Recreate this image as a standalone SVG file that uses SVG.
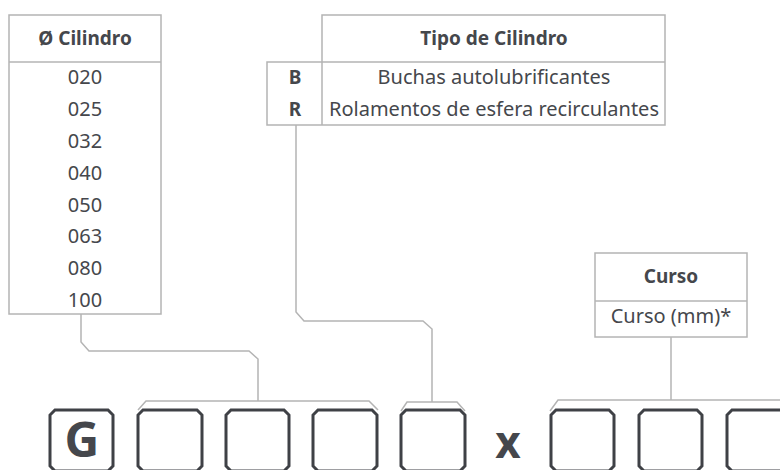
<svg xmlns="http://www.w3.org/2000/svg" width="780" height="470" viewBox="0 0 780 470">
<style>
.t{font-family:"Noto Sans","Liberation Sans",sans-serif;font-size:20px;fill:#45474c;text-anchor:middle}
.b{font-weight:bold;font-size:19px}
.grid{fill:none;stroke:#b4b4b4;stroke-width:1.5}
.conn{fill:none;stroke:#b4b4b4;stroke-width:1.5}
.box{fill:none;stroke:#3f4146;stroke-width:3;stroke-linejoin:miter}
.big{font-family:"Noto Sans","Liberation Sans",sans-serif;font-weight:bold;fill:#45474c;text-anchor:middle}
</style>
<rect width="780" height="470" fill="#ffffff"/>
<g id="cilindro">
<rect class="grid" x="9" y="15" width="152" height="299"/>
<line class="grid" x1="9" y1="62" x2="161" y2="62"/>
<text class="t b" x="85" y="45">Ø Cilindro</text>
<text class="t" x="85" y="84">020</text>
<text class="t" x="85" y="116">025</text>
<text class="t" x="85" y="148">032</text>
<text class="t" x="85" y="180">040</text>
<text class="t" x="85" y="212">050</text>
<text class="t" x="85" y="243">063</text>
<text class="t" x="85" y="275">080</text>
<text class="t" x="85" y="307">100</text>
</g>
<g id="tipo">
<path class="grid" d="M322,125 V15 H665 V125 H267 V62 H665"/>
<text class="t b" x="494" y="45">Tipo de Cilindro</text>
<text class="t b" x="295" y="84">B</text>
<text class="t b" x="295" y="116">R</text>
<text class="t" x="494" y="84">Buchas autolubrificantes</text>
<text class="t" x="494" y="116">Rolamentos de esfera recirculantes</text>
</g>
<g id="curso">
<rect class="grid" x="595" y="253" width="152" height="84"/>
<line class="grid" x1="595" y1="301" x2="747" y2="301"/>
<text class="t b" x="671" y="283">Curso</text>
<text class="t" x="671" y="323">Curso (mm)*</text>
</g>
<g id="connectors">
<path class="conn" d="M81,314 V342 L89,351 H249 L258,359 V401"/>
<path class="conn" d="M138,410 L146,401 H369 L378,410"/>
<path class="conn" d="M296,125 V312 L304,321 H423 L432,329 V402"/>
<path class="conn" d="M401,411 L407,402 H457 L465,411"/>
<path class="conn" d="M671,337 V400"/>
<path class="conn" d="M550,411 L558,400 H780"/>
</g>
<g id="code">
<path class="box" d="M55,410 H108 L113,415 V466 L108,471 H55 L50,466 V415 Z"/>
<text class="big" x="82" y="457" font-size="48">G</text>
<path class="box" d="M143,410 H197 L202,415 V466 L197,471 H143 L138,466 V415 Z"/>
<path class="box" d="M231,410 H284 L289,415 V466 L284,471 H231 L226,466 V415 Z"/>
<path class="box" d="M318,410 H372 L377,415 V466 L372,471 H318 L313,466 V415 Z"/>
<path class="box" d="M406,410 H460 L465,415 V466 L460,471 H406 L401,466 V415 Z"/>
<text class="big" x="508" y="458" font-size="44">x</text>
<path class="box" d="M556,410 H609 L614,415 V466 L609,471 H556 L551,466 V415 Z"/>
<path class="box" d="M644,410 H697 L702,415 V466 L697,471 H644 L639,466 V415 Z"/>
<path class="box" d="M732,410 H790 L795,415 V466 L790,471 H732 L727,466 V415 Z"/>
</g>
</svg>
